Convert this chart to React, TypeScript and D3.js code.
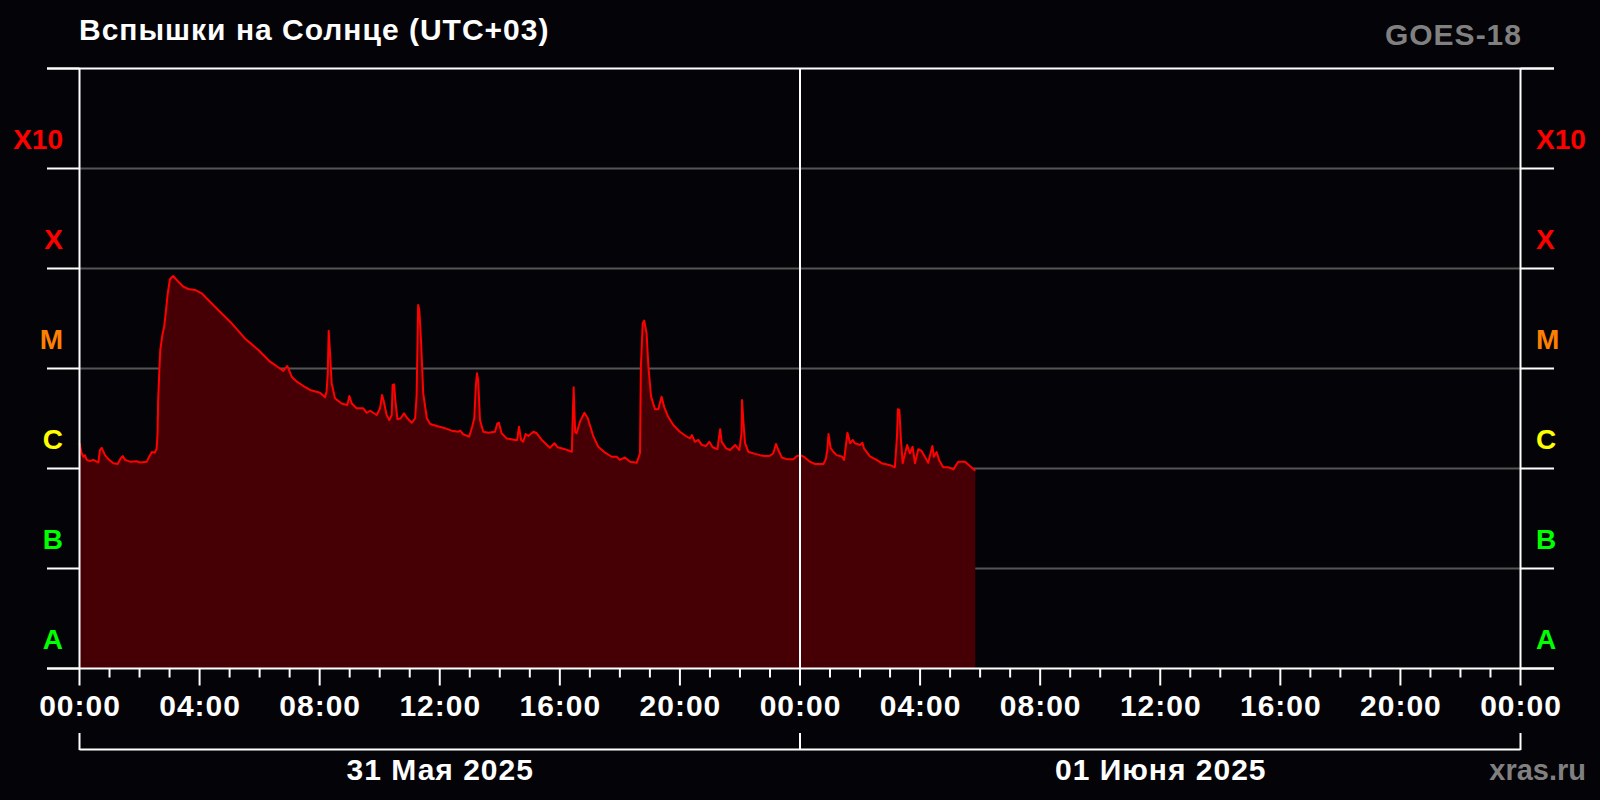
import React from "react";
import * as d3 from "d3";

// Hours since 31 May 2025 00:00 (UTC+03)
const HOURS = [
  0.0, 0.07, 0.13, 0.18, 0.24, 0.35, 0.46, 0.63, 0.68, 0.74, 0.85, 0.96, 1.13, 1.27, 1.37, 1.44, 1.52, 1.68, 1.91, 2.02,
  2.24, 2.32, 2.41, 2.51, 2.57, 2.6, 2.62, 2.66, 2.69, 2.76, 2.82, 2.87, 2.94, 3.01, 3.12, 3.29, 3.46, 3.62, 3.85, 4.07,
  4.29, 4.62, 5.07, 5.51, 5.96, 6.35, 6.79, 6.92, 7.07, 7.24, 7.46, 7.68, 8.01, 8.18, 8.23, 8.27, 8.3, 8.34, 8.4, 8.51,
  8.73, 8.92, 8.99, 9.07, 9.23, 9.45, 9.57, 9.68, 9.9, 10.01, 10.08, 10.14, 10.23, 10.32, 10.4, 10.43, 10.48, 10.52, 10.59, 10.7,
  10.81, 10.92, 11.07, 11.18, 11.23, 11.28, 11.32, 11.38, 11.45, 11.57, 11.68, 11.9, 12.12, 12.4, 12.62, 12.68, 12.78, 12.98, 13.08, 13.15,
  13.2, 13.24, 13.28, 13.34, 13.45, 13.62, 13.84, 13.92, 13.97, 14.06, 14.23, 14.51, 14.58, 14.64, 14.71, 14.78, 14.86, 14.95, 15.12, 15.23,
  15.4, 15.67, 15.82, 15.93, 16.17, 16.4, 16.43, 16.46, 16.51, 16.56, 16.67, 16.82, 16.93, 17.12, 17.28, 17.51, 17.73, 17.89, 18.0, 18.17,
  18.34, 18.56, 18.67, 18.7, 18.76, 18.81, 18.89, 18.95, 19.04, 19.17, 19.28, 19.39, 19.48, 19.61, 19.78, 20.0, 20.23, 20.34, 20.4, 20.5,
  20.61, 20.73, 20.87, 20.98, 21.09, 21.25, 21.29, 21.34, 21.39, 21.54, 21.67, 21.84, 21.98, 22.05, 22.07, 22.11, 22.17, 22.28, 22.5, 22.67,
  22.84, 23.0, 23.11, 23.2, 23.28, 23.39, 23.56, 23.78, 23.89, 24.02, 24.16, 24.33, 24.5, 24.78, 24.86, 24.91, 24.95, 25.02, 25.11, 25.22,
  25.39, 25.47, 25.53, 25.58, 25.67, 25.76, 25.83, 26.0, 26.08, 26.13, 26.33, 26.55, 26.72, 27.0, 27.16, 27.2, 27.23, 27.26, 27.31, 27.36,
  27.42, 27.5, 27.57, 27.66, 27.75, 27.83, 27.94, 28.05, 28.16, 28.27, 28.41, 28.46, 28.55, 28.64, 28.77, 28.94, 29.11, 29.27, 29.5, 29.66,
  29.84,
];

// GOES-18 X-ray flux, W/m^2
const FLUX = [
  1.79e-6, 1.42e-6, 1.31e-6, 1.36e-6, 1.22e-6, 1.19e-6, 1.22e-6, 1.15e-6, 1.53e-6, 1.61e-6, 1.36e-6, 1.24e-6, 1.13e-6, 1.11e-6, 1.26e-6, 1.33e-6, 1.22e-6, 1.17e-6, 1.18e-6, 1.15e-6,
  1.17e-6, 1.31e-6, 1.46e-6, 1.44e-6, 1.59e-6, 2.25e-6, 4.84e-6, 9.66e-6, 1.53e-5, 2.16e-5, 2.62e-5, 3.56e-5, 5.65e-5, 7.8e-5, 8.41e-5, 7.38e-5, 6.58e-5, 6.24e-5, 6.1e-5, 5.65e-5,
  4.84e-5, 3.85e-5, 2.83e-5, 2.0e-5, 1.53e-5, 1.17e-5, 9.44e-6, 1.06e-5, 8.28e-6, 7.38e-6, 6.68e-6, 6.1e-6, 5.73e-6, 5.15e-6, 5.86e-6, 8.95e-6, 2.39e-5, 1.53e-5, 7.11e-6, 5.04e-6,
  4.47e-6, 4.32e-6, 5.31e-6, 4.47e-6, 4.0e-6, 4.0e-6, 3.61e-6, 3.78e-6, 3.43e-6, 4.0e-6, 5.43e-6, 4.66e-6, 3.43e-6, 3.05e-6, 3.43e-6, 6.84e-6, 6.95e-6, 4.84e-6, 3.1e-6, 3.18e-6,
  3.56e-6, 3.18e-6, 2.87e-6, 3.18e-6, 5.43e-6, 4.32e-5, 3.85e-5, 1.79e-5, 5.65e-6, 3.18e-6, 2.79e-6, 2.66e-6, 2.56e-6, 2.39e-6, 2.33e-6, 2.39e-6, 2.2e-6, 2.08e-6, 2.62e-6, 3.18e-6,
  6.58e-6, 8.95e-6, 7.67e-6, 3.05e-6, 2.33e-6, 2.28e-6, 2.33e-6, 2.83e-6, 2.87e-6, 2.25e-6, 2.0e-6, 1.93e-6, 1.93e-6, 2.62e-6, 1.93e-6, 1.85e-6, 2.21e-6, 2.11e-6, 2.33e-6, 2.25e-6,
  1.93e-6, 1.61e-6, 1.79e-6, 1.63e-6, 1.56e-6, 1.47e-6, 3.29e-6, 6.49e-6, 2.33e-6, 2.25e-6, 2.94e-6, 3.61e-6, 3.18e-6, 2.08e-6, 1.65e-6, 1.44e-6, 1.31e-6, 1.31e-6, 1.22e-6, 1.29e-6,
  1.17e-6, 1.14e-6, 1.42e-6, 1.04e-5, 2.83e-5, 3.01e-5, 2.25e-5, 1.04e-5, 5.23e-6, 3.91e-6, 3.91e-6, 5.23e-6, 4.09e-6, 3.29e-6, 2.72e-6, 2.33e-6, 2.08e-6, 2.0e-6, 2.16e-6, 1.85e-6,
  1.93e-6, 1.72e-6, 1.68e-6, 1.85e-6, 1.63e-6, 1.56e-6, 1.93e-6, 2.47e-6, 1.85e-6, 1.59e-6, 1.53e-6, 1.72e-6, 1.53e-6, 2.25e-6, 4.84e-6, 3.05e-6, 1.79e-6, 1.47e-6, 1.4e-6, 1.36e-6,
  1.33e-6, 1.34e-6, 1.42e-6, 1.76e-6, 1.53e-6, 1.29e-6, 1.24e-6, 1.24e-6, 1.33e-6, 1.36e-6, 1.29e-6, 1.17e-6, 1.11e-6, 1.11e-6, 1.24e-6, 1.53e-6, 2.21e-6, 1.6e-6, 1.47e-6, 1.36e-6,
  1.32e-6, 1.22e-6, 1.72e-6, 2.28e-6, 1.79e-6, 1.93e-6, 1.79e-6, 1.72e-6, 1.81e-6, 1.59e-6, 1.32e-6, 1.22e-6, 1.13e-6, 1.08e-6, 1.03e-6, 1.53e-6, 2.08e-6, 3.91e-6, 3.85e-6, 2.0e-6,
  1.13e-6, 1.42e-6, 1.72e-6, 1.42e-6, 1.65e-6, 1.13e-6, 1.56e-6, 1.5e-6, 1.31e-6, 1.14e-6, 1.68e-6, 1.31e-6, 1.46e-6, 1.2e-6, 1.03e-6, 1.03e-6, 0.98e-6, 1.17e-6, 1.17e-6, 1.06e-6,
  0.95e-6,
];

// Flare classes (bands between decades, from 1e-2 down to 1e-8)
const CLASS_LABELS = ["X10", "X", "M", "C", "B", "A"];
const CLASS_DECADES = [1e-3, 1e-4, 1e-5, 1e-6, 1e-7, 1e-8]; // lower bound of each band
const CLASS_COLORS: Record<string, string> = {
  X10: "#ff0000",
  X: "#ff0000",
  M: "#ff8000",
  C: "#ffff00",
  B: "#00ff00",
  A: "#00ff00",
};

const GRID_DECADES = [1e-3, 1e-4, 1e-5, 1e-6, 1e-7];
const DAY_LABELS = ["31 Мая 2025", "01 Июня 2025"];
const TITLE = "Вспышки на Солнце (UTC+03)";
const SATELLITE = "GOES-18";
const SOURCE = "xras.ru";

const W = 1600;
const H = 800;
const X0 = 79.5;
const X1 = 1520.5;
const YTOP = 68.5;
const YBOT = 668.5;
const FONT = "'Liberation Sans', Arial, Helvetica, sans-serif";

export default function App() {
  const x = d3.scaleLinear().domain([0, 48]).range([X0, X1]);
  const y = d3.scaleLog().domain([1e-8, 1e-2]).range([YBOT, YTOP]);

  const data = HOURS.map((h, i) => ({ t: h, f: FLUX[i] }));
  const area = d3
    .area<{ t: number; f: number }>()
    .x((d) => x(d.t))
    .y0(YBOT)
    .y1((d) => y(d.f));
  const line = d3
    .line<{ t: number; f: number }>()
    .x((d) => x(d.t))
    .y((d) => y(d.f));

  const hourTicks = d3.range(0, 49, 1);
  const labelTicks = d3.range(0, 49, 4);
  const dayBounds = [0, 24, 48];

  return (
    <svg
      width={W}
      height={H}
      style={{ position: "absolute", left: 0, top: 0, background: "#040307" }}
      fontFamily={FONT}
    >
      <rect x={0} y={0} width={W} height={H} fill="#040307" />

      {/* grid lines inside plot */}
      {GRID_DECADES.map((d) => (
        <line key={"g" + d} x1={X0} x2={X1} y1={y(d)} y2={y(d)} stroke="#555555" strokeWidth={2} />
      ))}

      {/* data */}
      <path d={area(data) || ""} fill="#460005" />
      <path d={line(data) || ""} fill="none" stroke="#ff0000" strokeWidth={2} strokeLinejoin="round" />

      {/* outer ticks at decades */}
      {[1e-2, ...GRID_DECADES, 1e-8].map((d) => (
        <g key={"t" + d}>
          <line x1={47} x2={X0} y1={y(d)} y2={y(d)} stroke="#ffffff" strokeWidth={2} />
          <line x1={X1} x2={1554} y1={y(d)} y2={y(d)} stroke="#ffffff" strokeWidth={2} />
        </g>
      ))}
      <line x1={47} x2={1554} y1={YTOP} y2={YTOP} stroke="#ffffff" strokeWidth={2} />
      <line x1={47} x2={1554} y1={YBOT} y2={YBOT} stroke="#ffffff" strokeWidth={2} />

      {/* vertical lines */}
      {dayBounds.map((h) => (
        <line key={"v" + h} x1={x(h)} x2={x(h)} y1={YTOP} y2={YBOT} stroke="#ffffff" strokeWidth={2} />
      ))}

      {/* hour ticks */}
      {hourTicks.map((h) => (
        <line
          key={"h" + h}
          x1={x(h)}
          x2={x(h)}
          y1={YBOT}
          y2={YBOT + (h % 4 === 0 ? 17 : 9)}
          stroke="#ffffff"
          strokeWidth={2}
        />
      ))}
      {labelTicks.map((h) => (
        <text
          key={"l" + h}
          x={x(h) + 0.5}
          y={716}
          textAnchor="middle"
          fill="#ffffff"
          fontSize={30}
          letterSpacing={1}
          fontWeight="bold"
        >
          {String(h % 24).padStart(2, "0") + ":00"}
        </text>
      ))}

      {/* day bracket */}
      <line x1={x(0)} x2={x(48)} y1={749.5} y2={749.5} stroke="#ffffff" strokeWidth={2} />
      {dayBounds.map((h) => (
        <line key={"b" + h} x1={x(h)} x2={x(h)} y1={733} y2={750} stroke="#ffffff" strokeWidth={2} />
      ))}
      {DAY_LABELS.map((lbl, i) => (
        <text
          key={lbl}
          x={(x(dayBounds[i]) + x(dayBounds[i + 1])) / 2 + 0.5}
          y={780}
          textAnchor="middle"
          fill="#ffffff"
          fontSize={30}
          letterSpacing={1}
          fontWeight="bold"
        >
          {lbl}
        </text>
      ))}

      {/* class labels */}
      {CLASS_LABELS.map((c, i) => (
        <g key={c}>
          <text x={63} y={y(CLASS_DECADES[i]) - 20} textAnchor="end" fill={CLASS_COLORS[c]} fontSize={28} fontWeight="bold">
            {c}
          </text>
          <text x={1536} y={y(CLASS_DECADES[i]) - 20} textAnchor="start" fill={CLASS_COLORS[c]} fontSize={28} fontWeight="bold">
            {c}
          </text>
        </g>
      ))}

      {/* titles */}
      <text x={79} y={39.5} fill="#ffffff" fontSize={30} letterSpacing={1} fontWeight="bold">
        {TITLE}
      </text>
      <text x={1522} y={45} textAnchor="end" fill="#808080" fontSize={30} letterSpacing={1} fontWeight="bold">
        {SATELLITE}
      </text>
      <text x={1586} y={780} textAnchor="end" fill="#808080" fontSize={29} fontWeight="bold">
        {SOURCE}
      </text>
    </svg>
  );
}
